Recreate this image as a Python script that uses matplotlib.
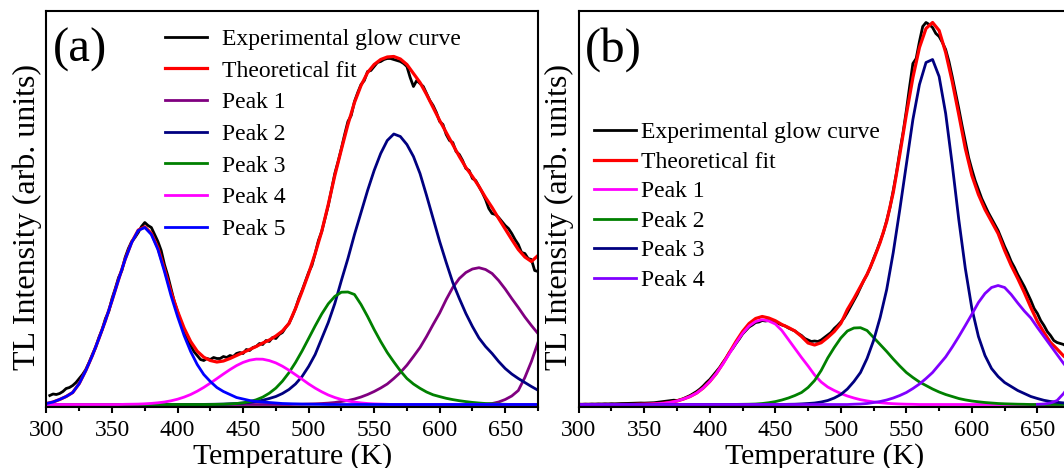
import numpy as np
import matplotlib

matplotlib.use("Agg")
import matplotlib.pyplot as plt
from matplotlib.ticker import MultipleLocator

plt.rcParams["font.family"] = ["Liberation Serif", "DejaVu Serif"]

# temperature grids (K)
temps = np.arange(300, 676, 5)
exp_temps_a = np.arange(302.5, 675.1, 2.5)
exp_temps_b = np.arange(300, 675.1, 2.5)
tail_temps_a = np.arange(635, 676, 5)
tail_temps_b = np.arange(650, 676, 5)

# ---- panel (a) ----
fit_a = [
    1, 2.5, 5, 8, 12, 21, 34, 49, 66, 84,
    104, 125, 145.2, 162.3, 174.4, 177.7, 171.1, 156.7, 135.5, 112.7,
    93.3, 76.4, 63, 53.3, 47.3, 44, 42.5, 43.5, 46, 49,
    52, 55, 58, 61.5, 64.5, 68.5, 73.5, 81, 96, 113,
    131, 151, 173, 200, 229, 255, 280, 302, 319, 332,
    340, 345, 347.5, 348, 345.5, 340, 331, 322, 310, 297,
    284, 272, 260, 248, 237, 228, 218, 207, 197, 186,
    175.5, 165, 155, 147.5, 143, 149,
]
peak1_a = [
    0, 0, 0, 0, 0, 0, 0, 0, 0, 0,
    0, 0, 0, 0, 0, 0, 0, 0, 0, 0,
    0, 0, 0, 0, 0, 0, 0, 0, 0, 0,
    0, 0, 0, 0, 0, 0, 0, 0, 0.2, 0.3,
    0.5, 0.7, 1, 1.4, 2, 3, 4, 5.5, 7.5, 10,
    13, 16.5, 20.5, 26, 32, 39.3, 48, 57, 68, 80,
    91.5, 105, 117, 126, 132, 135.5, 136.8, 135, 131, 124,
    115.5, 106, 97, 87.5, 79, 71,
]
peak1_tail_a = [0.3, 1, 2.5, 5, 8.5, 14, 27, 43, 62]
peak2_a = [
    0, 0, 0, 0, 0, 0, 0, 0, 0, 0,
    0, 0, 0, 0, 0, 0, 0, 0, 0, 0,
    0, 0, 0, 0, 0.1, 0.2, 0.3, 0.4, 0.7, 1,
    1.5, 2.1, 3, 4.3, 6, 8, 11, 15, 20.5, 28,
    38, 50, 66, 82, 101, 124, 146, 170, 192, 214,
    234, 251, 264, 270.5, 268, 260, 248, 231, 209, 186,
    163, 142, 122, 106, 91, 78, 66.5, 58, 51, 43,
    36, 30.5, 26, 22, 18, 14.3,
]
peak3_a = [
    0, 0, 0, 0, 0, 0, 0, 0, 0, 0,
    0, 0, 0, 0, 0, 0, 0, 0, 0, 0,
    0, 0, 0, 0, 0, 0, 0.15, 0.3, 0.6, 1.0,
    1.7, 2.9, 4.7, 7.4, 11.3, 16.4, 23.3, 31.8, 42.0, 53.5,
    66.0, 78.6, 90.5, 100.7, 108.1, 112.3, 112.5, 110, 100, 88,
    75, 63, 52, 42.6, 33.7, 26, 20.5, 16.2, 12.5, 9.7,
    7.9, 6.2, 4.9, 3.8, 2.9, 2.1, 1.5, 1.0, 0.7, 0.4,
    0.2, 0, 0, 0, 0, 0,
]
peak4_a = [
    0, 0, 0, 0, 0, 0, 0, 0, 0, 0,
    0, 0, 0.2, 0.3, 0.4, 0.7, 1.1, 1.7, 2.5, 3.7,
    5.3, 7.4, 10.0, 13.3, 17.1, 21.4, 25.9, 30.5, 34.9, 38.9,
    42.1, 44.3, 45.4, 45.3, 43.9, 41.6, 38.3, 34.3, 29.8, 25.3,
    20.6, 16.4, 12.7, 9.5, 7.0, 5.0, 3.5, 2.4, 1.6, 1.0,
    0.6, 0.4, 0.2, 0, 0, 0, 0, 0, 0, 0,
    0, 0, 0, 0, 0, 0, 0, 0, 0, 0,
    0, 0, 0, 0, 0, 0,
]
peak5_a = [
    1, 2.5, 5, 8, 12, 21, 34, 49, 66, 84,
    104, 125, 145, 162, 174, 177, 170, 155, 133, 109,
    88, 69, 53, 40, 30, 23, 17, 13, 10, 7,
    5.5, 4, 3, 2.5, 2, 1.5, 1, 0.8, 0.6, 0.4,
    0.3, 0.2, 0.1, 0, 0, 0, 0, 0, 0, 0,
    0, 0, 0, 0, 0, 0, 0, 0, 0, 0,
    0, 0, 0, 0, 0, 0, 0, 0, 0, 0,
    0, 0, 0, 0, 0, 0,
]
exp_a = [
    9, 10.5, 10, 11, 13, 16, 17, 19, 22, 26,
    30, 35, 42, 50, 57, 67, 75, 86, 93, 106,
    116, 127, 134, 147, 156, 163, 167, 172, 178, 182,
    179, 177, 170, 163, 154, 140, 129, 116, 103, 93,
    82, 72, 64, 59, 53, 49, 45, 44, 46, 45,
    47, 46, 46, 48, 47, 49, 48, 51, 52, 51,
    55, 54, 57, 58, 61, 60, 64, 63, 67, 66,
    70, 72, 77, 81, 88, 96, 106, 114, 123, 132,
    139, 151, 164, 173, 186, 199, 215, 231, 243, 256,
    270, 283, 289, 303, 312, 320, 324, 333, 334, 338,
    342, 343, 345, 346, 346, 345, 344, 343, 341, 338,
    327, 318, 324, 321, 318, 311, 304, 299, 292, 283,
    280, 270, 264, 262, 253, 250, 244, 236, 234, 226,
    224, 218, 212, 205, 196, 191, 190, 187, 183, 179,
    176, 171, 165, 160, 152, 151, 146, 145, 134, 133,
]

# ---- panel (b) ----
fit_b = [
    0, 0, 0, 0, 0, 0, 0, 0, 0, 0.2,
    0.3, 0.5, 0.8, 1.3, 2.2, 3.5, 5.5, 8, 11.5, 16.5,
    23, 31, 41, 52, 63, 73, 81, 86, 88, 86.5,
    83.8, 80, 77, 73.5, 68, 61.5, 59.5, 61.8, 67, 73,
    81, 95, 106, 118, 130, 145, 162, 183, 212, 250,
    290, 327, 357, 376, 382, 374, 352, 323, 290, 256,
    229, 210, 195, 183, 171, 154, 139, 126, 112, 97,
    83, 72, 62, 55.5, 48.5, 43,
]
peak1_b = [
    0, 0, 0, 0, 0, 0, 0, 0, 0, 0.2,
    0.3, 0.5, 0.8, 1.3, 2.2, 3.5, 5.5, 8, 11.5, 16.5,
    23, 31, 40.5, 51, 61.5, 71, 78.5, 83, 84.8, 83.5,
    80.5, 74, 65, 56, 47, 38.5, 29.5, 22.5, 17.5, 14,
    11, 8.5, 6.5, 4.8, 3.6, 2.6, 1.8, 1.2, 0.8, 0.5,
    0.3, 0.2, 0, 0, 0, 0, 0, 0, 0, 0,
    0, 0, 0, 0, 0, 0, 0, 0, 0, 0,
    0, 0, 0, 0, 0, 0,
]
peak2_b = [
    0, 0, 0, 0, 0, 0, 0, 0, 0, 0,
    0, 0, 0, 0, 0, 0, 0, 0, 0, 0,
    0, 0, 0, 0, 0.1, 0.2, 0.3, 0.5, 1, 1.8,
    2.9, 4.5, 6.5, 9, 12, 17, 24, 34, 46.5, 57,
    66.5, 73.5, 76.5, 76.8, 74, 67, 60, 53, 45.5, 38.5,
    32, 27, 22.5, 19, 15.5, 12.5, 10, 8, 6, 4.6,
    3.5, 2.7, 2, 1.5, 1, 0.7, 0.5, 0.3, 0.2, 0,
    0, 0, 0, 0, 0, 0,
]
peak3_b = [
    0, 0, 0, 0, 0, 0, 0, 0, 0, 0,
    0, 0, 0, 0, 0, 0, 0, 0, 0, 0,
    0, 0, 0, 0, 0, 0, 0, 0, 0, 0,
    0, 0, 0.2, 0.3, 0.6, 1, 1.5, 2.5, 4, 6.5,
    10, 15.5, 23, 32, 46, 64, 87, 115, 152, 195,
    240, 285, 320, 342, 345, 328, 291, 240, 185, 136,
    96, 68, 49, 36, 28, 22, 18, 14, 11, 8,
    6, 4.2, 3, 2.2, 1.6, 1.2,
]
peak4_b = [
    0, 0, 0, 0, 0, 0, 0, 0, 0, 0,
    0, 0, 0, 0, 0, 0, 0, 0, 0, 0,
    0, 0, 0, 0, 0, 0, 0, 0, 0, 0,
    0, 0, 0, 0, 0, 0, 0, 0, 0, 0,
    0, 0, 0.3, 0.5, 1, 2, 3, 4.5, 6.5, 9,
    12, 16, 20.5, 26, 32, 39.8, 47.6, 57.4, 67.9, 79,
    90.3, 102, 111, 117, 119, 117, 110, 101.5, 93.5, 86.5,
    77, 68, 59, 50, 41, 33,
]
peak4_tail_b = [0.2, 0.5, 1.5, 4, 11, 20]
exp_b = [
    0.3, 0.2, 0.4, 0.3, 0.5, 0.4, 0.6, 0.5, 0.7, 0.6,
    0.8, 0.7, 0.9, 1, 1, 1.1, 1.2, 1.3, 1.4, 1.5,
    1.4, 1.5, 1.6, 1.8, 2.2, 2.6, 3.0, 3.5, 3.8, 4.3,
    4.0, 4.8, 6, 7.5, 9, 11, 13, 15.5, 18.5, 22,
    25, 29, 33, 37, 42, 46.5, 52, 56, 61, 65.5,
    70.5, 74, 77.5, 79.5, 82, 82.5, 84, 83.5, 84, 83,
    82.5, 81, 79.5, 78.5, 76.5, 75, 73.5, 71, 69, 66,
    64.5, 63, 63.5, 63, 64.5, 67, 69.5, 72, 76, 79,
    82.5, 86.5, 92, 98, 104, 110, 117, 124, 130, 137,
    146, 154, 163, 172, 184, 197, 214, 232, 253, 272,
    294, 318, 341, 346, 363, 378, 382, 380, 377, 371,
    368, 362, 355, 343, 328, 312, 296, 279, 263, 247,
    235, 224, 215, 206, 199, 192, 186, 180, 174, 166,
    158, 151, 143, 137, 130, 124, 118, 111, 104, 96,
    91, 84, 79, 73, 69, 64, 62, 61, 60, 58,
    57,
]

purple = "#800080"
navy = "#000080"
green = "#008000"
magenta = "#FF00FF"
blue = "#0000FF"
violet = "#8000FF"

line_w = 2.0
fit_w = 2.3


def style_axes(ax, tag):
    ax.set_xlim(300, 675)
    ax.set_ylim(-2, 393.5)
    ax.set_yticks([])
    ax.xaxis.set_major_locator(MultipleLocator(50))
    ax.xaxis.set_minor_locator(MultipleLocator(25))
    ax.tick_params(axis="x", which="major", direction="out", length=4.5,
                   width=1.5, labelsize=17, pad=5.5)
    ax.tick_params(axis="x", which="minor", direction="out", length=3,
                   width=1.5)
    for spine in ax.spines.values():
        spine.set_linewidth(1.5)
    ax.set_xlabel("Temperature (K)", fontsize=21.5, labelpad=1)
    ax.set_ylabel("TL Intensity (arb. units)", fontsize=23)
    ax.yaxis.set_label_coords(-0.009, 0.48)
    ax.text(0.013, 0.873, tag, transform=ax.transAxes, fontsize=35,
            ha="left", va="baseline")


fig = plt.figure(figsize=(10.64, 4.68), dpi=100)
ax_a = fig.add_axes([0.0437, 0.1314, 0.4619, 0.8451])
ax_b = fig.add_axes([0.5439, 0.1314, 0.4619, 0.8451])

ax_a.plot(exp_temps_a, exp_a, color="black", lw=line_w, label="Experimental glow curve")
ax_a.plot(temps, fit_a, color="red", lw=fit_w, label="Theoretical fit")
ax_a.plot(temps, peak1_a, color=purple, lw=line_w, label="Peak 1")
ax_a.plot(tail_temps_a, peak1_tail_a, color=purple, lw=line_w)
ax_a.plot(temps, peak2_a, color=navy, lw=line_w, label="Peak 2")
ax_a.plot(temps, peak3_a, color=green, lw=line_w, label="Peak 3")
ax_a.plot(temps, peak4_a, color=magenta, lw=line_w, label="Peak 4")
ax_a.plot(temps, peak5_a, color=blue, lw=line_w, label="Peak 5")
style_axes(ax_a, "(a)")
ax_a.legend(loc="upper left", bbox_to_anchor=(0.241, 0.956), frameon=False,
            fontsize=17, handlelength=1.8, handletextpad=0.6,
            labelspacing=0.43, borderpad=0, borderaxespad=0)

ax_b.plot(exp_temps_b, exp_b, color="black", lw=line_w, label="Experimental glow curve")
ax_b.plot(temps, fit_b, color="red", lw=fit_w, label="Theoretical fit")
ax_b.plot(temps, peak1_b, color=magenta, lw=line_w, label="Peak 1")
ax_b.plot(temps, peak2_b, color=green, lw=line_w, label="Peak 2")
ax_b.plot(temps, peak3_b, color=navy, lw=line_w, label="Peak 3")
ax_b.plot(temps, peak4_b, color=violet, lw=line_w, label="Peak 4")
ax_b.plot(tail_temps_b, peak4_tail_b, color=violet, lw=line_w)
style_axes(ax_b, "(b)")
ax_b.legend(loc="upper left", bbox_to_anchor=(0.031, 0.720), frameon=False,
            fontsize=17, handlelength=1.8, handletextpad=0.2,
            labelspacing=0.34, borderpad=0, borderaxespad=0)

fig.savefig("out.png", dpi=100)
